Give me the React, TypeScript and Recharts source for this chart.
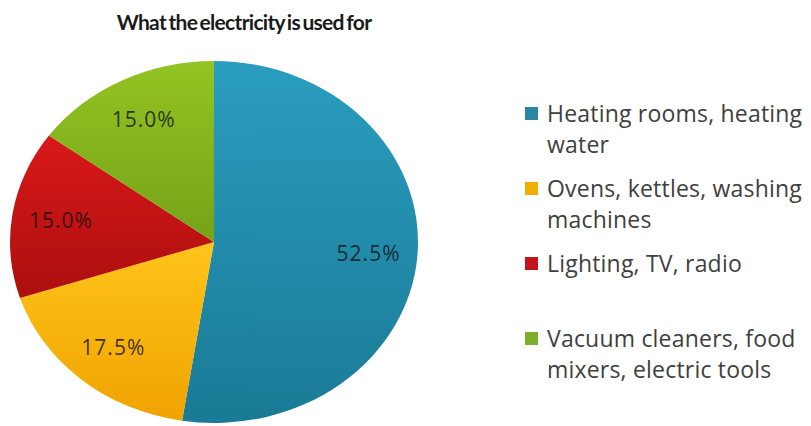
import React from "react";
import { Legend, Pie, PieChart, Sector } from "recharts";

const categories = [
  "Heating rooms, heating water",
  "Ovens, kettles, washing machines",
  "Lighting, TV, radio",
  "Vacuum cleaners, food mixers, electric tools",
];
const shares = [52.5, 17.5, 15.0, 15.0];

const sliceTop = ["#2a9dbf", "#ffc41a", "#d91818", "#93c323"];
const sliceBottom = ["#1a7a95", "#f0a300", "#ac0f0f", "#75a217"];
const legendColors = ["#2a86a6", "#f2ae00", "#c4141a", "#7fae2a"];

const data = categories.map((name, i) => ({ name, value: shares[i] }));

// the source picture is stretched sideways, so the pie is an ellipse
const STRETCH = 1.127;
const RAD = Math.PI / 180;
const labelFont = "'Open Sans', 'Noto Sans', sans-serif";

function EllipseSector(props: any) {
  const { cx, cy, index } = props;
  return (
    <g
      transform={`translate(${cx} ${cy}) scale(${STRETCH} 1) translate(${-cx} ${-cy})`}
    >
      <Sector {...props} fill={`url(#slice-${index})`} stroke="none" />
    </g>
  );
}

function SliceLabel(props: any) {
  const { cx, cy, midAngle, outerRadius, value } = props;
  const r = outerRadius * 0.76;
  const x = cx + r * Math.cos(-midAngle * RAD) * STRETCH;
  const y = cy + r * Math.sin(-midAngle * RAD);
  return (
    <text
      x={x}
      y={y}
      textAnchor="middle"
      dominantBaseline="central"
      fontFamily={labelFont}
      fontSize={21}
      letterSpacing={1}
      fill="#101010"
      fillOpacity={0.8}
    >
      {`${value.toFixed(1)}%`}
    </text>
  );
}

function LegendBlock() {
  return (
    <div
      style={{
        fontFamily: labelFont,
        fontSize: 23,
        letterSpacing: 0.2,
        lineHeight: "31px",
        color: "#404040",
      }}
    >
      {categories.map((name, i) => (
        <div
          key={name}
          style={{ position: "relative", height: 75, paddingLeft: 27 }}
        >
          <span
            style={{
              position: "absolute",
              left: 5,
              top: 9,
              width: 13,
              height: 13,
              background: legendColors[i],
            }}
          />
          {name}
        </div>
      ))}
    </div>
  );
}

export default function App() {
  return (
    <div
      style={{
        position: "absolute",
        left: 0,
        top: 0,
        width: 811,
        height: 426,
        overflow: "hidden",
        background: "#fff",
      }}
    >
      <div
        style={{
          position: "absolute",
          left: 0,
          top: 9,
          width: 488,
          textAlign: "center",
          fontFamily: "Lato, 'Open Sans', sans-serif",
          fontWeight: 700,
          fontSize: 21,
          color: "#1a1a1a",
          letterSpacing: -0.7,
          wordSpacing: -2,
        }}
      >
        What the electricity is used for
      </div>
      <PieChart
        width={811}
        height={426}
        margin={{ top: 0, right: 0, bottom: 0, left: 0 }}
      >
        <defs>
          {sliceTop.map((c, i) => (
            <linearGradient key={i} id={`slice-${i}`} x1="0" y1="0" x2="0" y2="1">
              <stop offset="0%" stopColor={c} />
              <stop offset="100%" stopColor={sliceBottom[i]} />
            </linearGradient>
          ))}
        </defs>
        <Pie
          data={data}
          dataKey="value"
          nameKey="name"
          cx={214}
          cy={242}
          outerRadius={181}
          startAngle={90}
          endAngle={-270}
          shape={EllipseSector}
          label={SliceLabel}
          labelLine={false}
          isAnimationActive={false}
        />
        <Legend
          layout="vertical"
          align="right"
          verticalAlign="top"
          content={LegendBlock}
          wrapperStyle={{ left: 520, top: 98, width: 297 }}
        />
      </PieChart>
    </div>
  );
}
